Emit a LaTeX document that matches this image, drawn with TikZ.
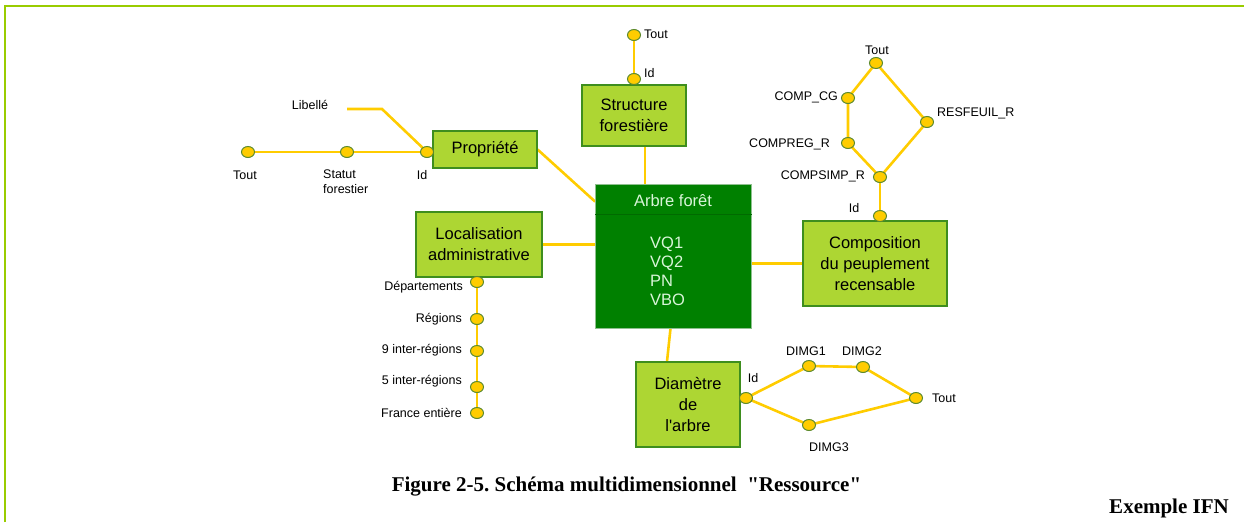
\documentclass[tikz,border=0pt]{standalone}
\usepackage{fontspec}
\setmainfont{Liberation Serif}
\newfontfamily\capfont{Liberation Serif}
\newfontfamily\boxfont{Liberation Sans}
\frenchspacing
\usetikzlibrary{shapes.geometric,backgrounds,calc}

\definecolor{framecol}{HTML}{99CC00}
\definecolor{dimfill}{HTML}{ADD633}
\definecolor{dimedge}{HTML}{3E8E1E}
\definecolor{factfill}{HTML}{008000}
\definecolor{factedge}{HTML}{8FC08F}
\definecolor{factline}{HTML}{006A00}
\definecolor{facttext}{HTML}{D8F5D8}
\definecolor{linkcol}{HTML}{FFCC00}
\definecolor{dotedge}{HTML}{5C8A2E}

\tikzset{
  dimbox/.style={draw=dimedge, fill=dimfill, line width=1.1pt, align=center,
    inner sep=0pt, font=\boxfont\fontsize{16.5}{21}\selectfont},
  factbox/.style={draw=factedge, fill=factfill, line width=0.8pt, inner sep=0pt,
    minimum width=156pt, minimum height=144pt},
  facttxt/.style={text=facttext, inner sep=0pt, align=left,
    font=\boxfont\fontsize{16.5}{19}\selectfont},
  yline/.style={draw=linkcol, line width=2.6pt},
  hdot/.style={ellipse, draw=dotedge, fill=linkcol, line width=1pt,
    minimum width=13pt, minimum height=11pt, inner sep=0pt},
  lbl/.style={inner sep=0pt, font=\boxfont\fontsize{12.5}{15}\selectfont},
  caption/.style={inner sep=0pt, font=\capfont\bfseries\fontsize{21}{24}\selectfont},
}

\begin{document}
\begin{tikzpicture}[x=1pt, y=-1pt]
\useasboundingbox (0,0) rectangle (1244,522);

% page frame (top and left rules)
\draw[framecol, line width=2.6pt] (5,522) -- (5,6) -- (1244,6);

% fact table
\node[factbox] (arbre) at (673.5,256) {};
\node[facttxt] (arbretitle) at (673,201) {Arbre forêt};
\draw[factline, line width=0.8pt] ($(arbre.north west)+(0,31)$) -- ($(arbre.north east)+(0,31)$);
\node[facttxt, anchor=west] (measures) at (650,271) {VQ1\\VQ2\\PN\\VBO};

% dimensions
\node[dimbox, minimum width=104pt, minimum height=37pt] (prop) at (485,149.5) {Propriété};
\node[dimbox, minimum width=104pt, minimum height=61pt] (struct) at (634,115.5) {Structure\\forestière};
\node[dimbox, minimum width=126pt, minimum height=65pt] (loc) at (479,244.5) {Localisation\\administrative};
\node[dimbox, minimum width=144pt, minimum height=85pt] (comp) at (875,263.5) {Composition\\du peuplement\\recensable};
\node[dimbox, minimum width=104pt, minimum height=85pt] (diam) at (688,404.5) {Diamètre\\de\\l'arbre};

% hierarchy levels: Propriété
\node[hdot] (pTout) at (248,152) {};
\node[hdot] (pStat) at (347,152) {};
\node[hdot] (pId) at (427,152) {};
\coordinate (pLib) at (347,109);
\node[lbl] (pToutL) at (245,175) {Tout};
\node[lbl, anchor=west, align=left] (pStatL) at (323,181.5) {Statut\\forestier};
\node[lbl] (pIdL) at (422,175) {Id};
\node[lbl] (pLibL) at (310,105) {Libellé};

% hierarchy levels: Structure forestière
\node[hdot] (sTout) at (634,35) {};
\node[hdot] (sId) at (634,79) {};
\node[lbl, anchor=west] (sToutL) at (644,34) {Tout};
\node[lbl, anchor=west] (sIdL) at (644,73) {Id};

% hierarchy levels: Localisation administrative
\node[hdot] (lDep) at (477,282) {};
\node[hdot] (lReg) at (477,319) {};
\node[hdot] (lIr9) at (477,351) {};
\node[hdot] (lIr5) at (477,387) {};
\node[hdot] (lFr) at (477,413) {};
\node[lbl, anchor=east] (lDepL) at (463,287) {Départements};
\node[lbl, anchor=east] (lRegL) at (462,319) {Régions};
\node[lbl, anchor=east] (lIr9L) at (462,350) {9 inter-régions};
\node[lbl, anchor=east] (lIr5L) at (462,381) {5 inter-régions};
\node[lbl, anchor=east] (lFrL) at (462,413) {France entière};

% hierarchy levels: Composition du peuplement
\node[hdot] (cTout) at (876,63) {};
\node[hdot] (cCG) at (848,98) {};
\node[hdot] (cRes) at (927,122) {};
\node[hdot] (cReg) at (848,143) {};
\node[hdot] (cSimp) at (880,177) {};
\node[hdot] (cId) at (880,216) {};
\node[lbl] (cToutL) at (877,50) {Tout};
\node[lbl, anchor=east] (cCGL) at (838,97) {COMP\_CG};
\node[lbl, anchor=west] (cResL) at (937,113) {RESFEUIL\_R};
\node[lbl, anchor=east] (cRegL) at (830,144) {COMPREG\_R};
\node[lbl, anchor=east] (cSimpL) at (865,176) {COMPSIMP\_R};
\node[lbl] (cIdL) at (854,208) {Id};

% hierarchy levels: Diamètre de l'arbre
\node[hdot] (dId) at (746,398) {};
\node[hdot] (dG1) at (809,366) {};
\node[hdot] (dG2) at (863,367) {};
\node[hdot] (dTout) at (916,398) {};
\node[hdot] (dG3) at (809,425) {};
\node[lbl] (dIdL) at (753,378) {Id};
\node[lbl] (dG1L) at (806,351) {DIMG1};
\node[lbl] (dG2L) at (862,351) {DIMG2};
\node[lbl, anchor=west] (dToutL) at (932,398) {Tout};
\node[lbl] (dG3L) at (829,447) {DIMG3};

% connectors under boxes and dots
\begin{pgfonlayer}{background}
  % star links
  \draw[yline] (prop.east) -- ($(arbre.north west)+(0,18)$);
  \draw[yline] ([xshift=11pt]struct.south) -- ([xshift=11pt]struct.south |- arbre.north);
  \draw[yline] (loc.east) -- (loc.east -| arbre.west);
  \draw[yline] (arbre.east |- comp.west) -- (comp.west);
  \draw[yline] ($(arbre.south)+(-3,0)$) -- ($(diam.north)+(-21,0)$);
  % Propriété
  \draw[yline] (pTout.center) -- (pStat.center) -- (pId.center);
  \draw[yline] (pLib) -- ++(35,0) -- (pId.center);
  % Structure forestière
  \draw[yline] (sTout.center) -- (sId.center);
  % Localisation administrative
  \draw[yline] (lDep.center) -- (lReg.center) -- (lIr9.center) -- (lIr5.center) -- (lFr.center);
  % Composition du peuplement
  \draw[yline] (cTout.center) -- (cCG.center) -- (cReg.center) -- (cSimp.center);
  \draw[yline] (cTout.center) -- (cRes.center) -- (cSimp.center);
  \draw[yline] (cSimp.center) -- (cId.center);
  % Diamètre de l'arbre
  \draw[yline] (dId.center) -- (dG1.center) -- (dG2.center) -- (dTout.center);
  \draw[yline] (dId.center) -- (dG3.center) -- (dTout.center);
\end{pgfonlayer}

% captions
\node[caption] (cap) at (626.5,487) {Figure 2-5. Schéma multidimensionnel\ \ "Ressource"};
\node[caption, anchor=east] (ifn) at (1229,508) {Exemple IFN};
\end{tikzpicture}
\end{document}
